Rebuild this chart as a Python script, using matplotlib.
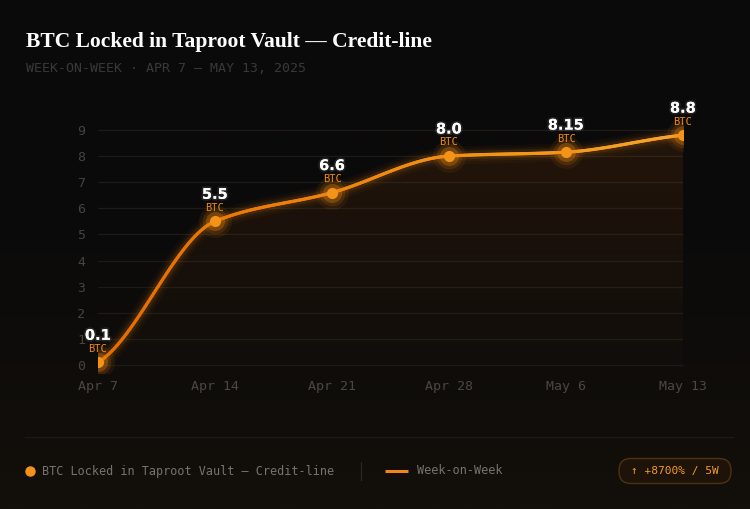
import numpy as np
import matplotlib
matplotlib.use("Agg")
import matplotlib.pyplot as plt
import matplotlib.patheffects as pe
from matplotlib.collections import LineCollection
from matplotlib.patches import FancyBboxPatch, Polygon
from matplotlib.colors import LinearSegmentedColormap

# data
weeks = ["Apr 7", "Apr 14", "Apr 21", "Apr 28", "May 6", "May 13"]
btc_locked = [0.1, 5.5, 6.6, 8.0, 8.15, 8.8]
value_labels = ["0.1", "5.5", "6.6", "8.0", "8.15", "8.8"]
y_ticks = list(range(0, 10))

title = "BTC Locked in Taproot Vault \u2014 Credit-line"
subtitle = "WEEK-ON-WEEK \u00b7 APR 7 \u2013 MAY 13, 2025"
legend_series = "BTC Locked in Taproot Vault \u2013 Credit-line"
legend_line = "Week-on-Week"
badge_text = "\u2191 +8700% / 5W"

MONO = ["DejaVu Sans Mono"]
ORANGE = "#f28a12"
ORANGE_DARK = "#e56a00"
ORANGE_LIGHT = "#f7a52a"


def smooth_curve(x, y, n=400):
    # monotone cubic hermite, softer tangents at the two ends
    x = np.asarray(x, float)
    y = np.asarray(y, float)
    h = np.diff(x)
    d = np.diff(y) / h
    m = np.zeros_like(y)
    for i in range(1, len(y) - 1):
        if d[i - 1] * d[i] > 0:
            m[i] = 2 / (1 / d[i - 1] + 1 / d[i])
    m[0] = d[0] / 2
    m[-1] = (d[-1] + m[-2]) / 2
    xs = np.linspace(x[0], x[-1], n)
    idx = np.clip(np.searchsorted(x, xs) - 1, 0, len(x) - 2)
    t = (xs - x[idx]) / h[idx]
    h00 = 2 * t**3 - 3 * t**2 + 1
    h10 = t**3 - 2 * t**2 + t
    h01 = -2 * t**3 + 3 * t**2
    h11 = t**3 - t**2
    ys = h00 * y[idx] + h10 * h[idx] * m[idx] + h01 * y[idx + 1] + h11 * h[idx] * m[idx + 1]
    return xs, ys


W, H = 750, 509
fig = plt.figure(figsize=(7.5, 5.09), dpi=100)

# background, in pixel coords so footer items can use them too
bg = fig.add_axes([0, 0, 1, 1], zorder=-10)
grad = np.linspace(0, 1, 256).reshape(-1, 1)
bg_cmap = LinearSegmentedColormap.from_list("bg", ["#0a0a0a", "#0c0b0a", "#130f0b"])
bg.imshow(grad, aspect="auto", cmap=bg_cmap, extent=[0, W, H, 0], origin="upper")
bg.set_xlim(0, W)
bg.set_ylim(H, 0)
bg.axis("off")

ax = fig.add_axes([98 / W, 1 - 372.8 / H, 585 / W, (372.8 - 116.9) / H])
ax.set_facecolor("none")
x = np.arange(len(weeks))
ax.set_xlim(0, len(weeks) - 1)
ax.set_ylim(-0.3, 9.5)

for v in y_ticks:
    ax.axhline(v, color="#1d1a17", lw=0.9, zorder=1)

xs, ys = smooth_curve(x, btc_locked)

# gradient fill under the curve
fill_cmap = LinearSegmentedColormap.from_list(
    "fill", [(0.85, 0.42, 0.05, 0.12), (0.85, 0.42, 0.05, 0.01)])
img = ax.imshow(np.linspace(0, 1, 256).reshape(-1, 1), aspect="auto", cmap=fill_cmap,
                extent=[0, len(weeks) - 1, -0.3, max(btc_locked)], origin="upper", zorder=2)
poly = Polygon(np.column_stack([np.r_[xs, xs[-1], xs[0]], np.r_[ys, -0.3, -0.3]]),
               closed=True, facecolor="none", edgecolor="none", transform=ax.transData)
ax.add_patch(poly)
img.set_clip_path(poly)

# glow
for lw, a in [(13, 0.035), (9, 0.06), (6, 0.1)]:
    ax.plot(xs, ys, color=ORANGE, lw=lw, alpha=a, solid_capstyle="round", zorder=3)

# gradient line
pts = np.column_stack([xs, ys]).reshape(-1, 1, 2)
segs = np.concatenate([pts[:-1], pts[1:]], axis=1)
line_cmap = LinearSegmentedColormap.from_list("ln", [ORANGE_DARK, "#f08a10", ORANGE_LIGHT])
lc = LineCollection(segs, cmap=line_cmap, linewidth=2.3, zorder=4, capstyle="round")
lc.set_array(xs / xs.max())
ax.add_collection(lc)

# points with halo
for s, a in [(560, 0.08), (340, 0.14), (190, 0.28)]:
    ax.scatter(x, btc_locked, s=s, color=ORANGE, alpha=a, lw=0, zorder=5)
ax.scatter(x, btc_locked, s=64, color="#f39418", lw=0, zorder=6)

# value labels
glow = [pe.withStroke(linewidth=2.5, foreground=(1, 1, 1, 0.1))]
for xi, yi, lab in zip(x, btc_locked, value_labels):
    ax.annotate(lab, (xi, yi), xytext=(0, 19.5), textcoords="offset points",
                ha="center", va="center", fontsize=10.5, fontweight="bold",
                color="white", family=["DejaVu Sans"], zorder=8, annotation_clip=False,
                path_effects=glow)
    ax.annotate("BTC", (xi, yi), xytext=(0, 9.8), textcoords="offset points",
                ha="center", va="center", fontsize=7.5, color=ORANGE,
                family=MONO, zorder=8, annotation_clip=False)

ax.set_xticks(x)
ax.set_xticklabels(weeks, family=MONO, fontsize=9.5, color="#4a4744")
ax.set_yticks(y_ticks)
ax.set_yticklabels([str(v) for v in y_ticks], family=MONO, fontsize=9.5, color="#46433f")
ax.tick_params(length=0, pad=9)
ax.tick_params(axis="x", pad=5)
for sp in ax.spines.values():
    sp.set_visible(False)

# title and subtitle
fig.text(26 / W, 1 - 42 / H, title, family=["Liberation Serif"], fontweight="bold",
         fontsize=15.5, color="white", va="center", ha="left")
fig.text(26 / W, 1 - 69 / H, subtitle, family=MONO, fontsize=9.5,
         color="#3b3936", va="center", ha="left")

# footer separator
bg.plot([25, 733], [437, 437], color="#1c1a18", lw=0.9)

# legend
ly = 471
bg.plot([30], [ly], marker="o", ms=6.5, color="#f5901a", lw=0)
bg.text(42, ly, legend_series, family=MONO, fontsize=8.5, color="#77726d",
        va="center", ha="left")
bg.plot([361, 361], [ly - 9, ly + 9], color="#2a2724", lw=0.9)
bg.plot([385, 408], [ly, ly], color="#f0851a", lw=2.2, solid_capstyle="butt")
bg.text(417, ly, legend_line, family=MONO, fontsize=8.5, color="#77726d",
        va="center", ha="left")

# badge
badge = FancyBboxPatch((619, 458.5), 112, 25, boxstyle="round,pad=0,rounding_size=12",
                       facecolor="#1d1309", edgecolor="#4d3312", lw=1.0)
bg.add_patch(badge)
bg.text(675, ly, badge_text, family=MONO, fontsize=8, color="#f29a2c",
        va="center", ha="center")

fig.savefig("out.png", dpi=100, facecolor="#0a0a0a")
